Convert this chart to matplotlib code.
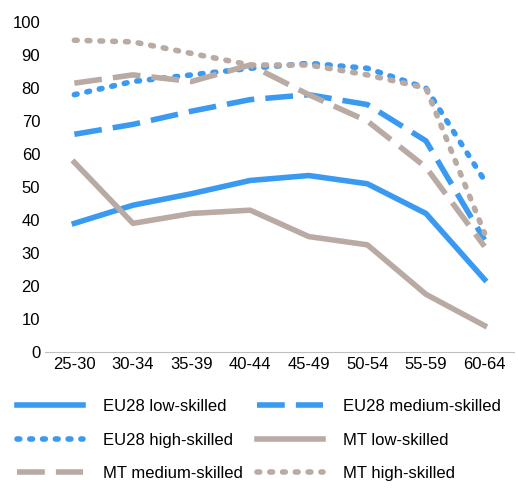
import matplotlib.pyplot as plt
import numpy as np

categories = ['25-30', '30-34', '35-39', '40-44', '45-49', '50-54', '55-59', '60-64']
eu_low = [39, 44.5, 48, 52, 53.5, 51, 42, 22]
eu_medium = [66, 69, 73, 76.5, 78, 75, 64, 34]
eu_high = [78, 82, 84, 86, 87.5, 86, 80, 52]
mt_low = [57.5, 39, 42, 43, 35, 32.5, 17.5, 8]
mt_medium = [81.5, 84, 82, 87, 78, 70, 56, 32]
mt_high = [94.5, 94, 90.5, 87, 87, 84, 80, 36]

blue = '#3A9AF2'
taupe = '#B9ABA4'

plt.rcParams['font.family'] = ['Liberation Sans', 'DejaVu Sans']
fig = plt.figure(figsize=(5.18, 4.91), dpi=100)
ax = fig.add_axes([0.087, 0.283, 0.905, 0.672])

x = np.arange(len(categories))
lw = 4
h1, = ax.plot(x, eu_low, color=blue, lw=lw, label='EU28 low-skilled')
h2, = ax.plot(x, eu_medium, color=blue, lw=lw, dashes=(5, 2), label='EU28 medium-skilled')
h3, = ax.plot(x, eu_high, color=blue, lw=lw, dashes=(0.5, 1.8), dash_capstyle='round', label='EU28 high-skilled')
h4, = ax.plot(x, mt_low, color=taupe, lw=lw, label='MT low-skilled')
h5, = ax.plot(x, mt_medium, color=taupe, lw=lw, dashes=(5, 2), label='MT medium-skilled')
h6, = ax.plot(x, mt_high, color=taupe, lw=lw, dashes=(0.5, 1.8), dash_capstyle='round', label='MT high-skilled')

ax.set_xlim(-0.5, len(categories) - 0.5)
ax.set_ylim(0, 100)
ax.set_yticks(range(0, 101, 10))
ax.set_xticks(x)
ax.set_xticklabels(categories)
ax.tick_params(labelsize=12, length=0)
for s in ['top', 'right', 'left']:
    ax.spines[s].set_visible(False)
ax.spines['bottom'].set_color('#BFBFBF')

# legend filled row by row, like the original
handles = [h1, h3, h5, h2, h4, h6]
fig.legend(handles, [h.get_label() for h in handles], loc='lower center',
           bbox_to_anchor=(0.5, -0.01), ncol=2, frameon=False,
           fontsize=12, handlelength=4.0, columnspacing=0.8, labelspacing=1.1,
           handletextpad=1.2)

fig.savefig('out.png', dpi=100)
